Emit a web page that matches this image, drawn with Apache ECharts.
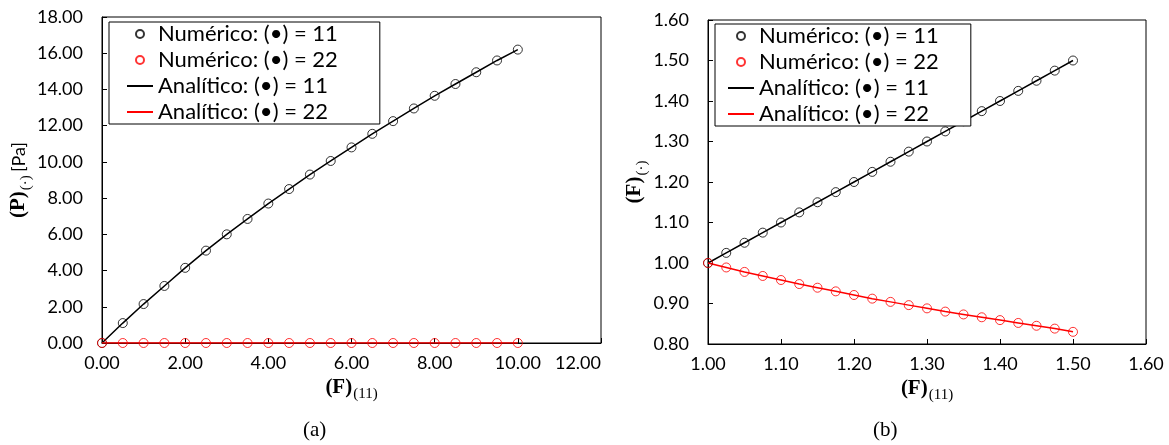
<!DOCTYPE html>
<html>
<head>
<meta charset="utf-8">
<script src="https://cdn.jsdelivr.net/npm/echarts@6/dist/echarts.min.js"></script>
<style>
html,body{margin:0;padding:0;background:#fff;}
#c{width:1169px;height:445px;}
</style>
</head>
<body>
<div id="c"></div>
<script>
// ---- Data ----
// Chart (a): first Piola stress components vs F11
const xA = [0, 0.5, 1, 1.5, 2, 2.5, 3, 3.5, 4, 4.5, 5, 5.5, 6, 6.5, 7, 7.5, 8, 8.5, 9, 9.5, 10];
const p11 = [0, 1.10, 2.15, 3.15, 4.15, 5.10, 6.00, 6.85, 7.70, 8.50, 9.30, 10.05, 10.80, 11.55, 12.25, 12.95, 13.65, 14.30, 14.95, 15.60, 16.20];
const p22 = [0, 0, 0, 0, 0, 0, 0, 0, 0, 0, 0, 0, 0, 0, 0, 0, 0, 0, 0, 0, 0];
// Chart (b): deformation gradient components vs F11
const xB = [1.000, 1.025, 1.050, 1.075, 1.100, 1.125, 1.150, 1.175, 1.200, 1.225, 1.250, 1.275, 1.300, 1.325, 1.350, 1.375, 1.400, 1.425, 1.450, 1.475, 1.500];
const f11 = [1.000, 1.025, 1.050, 1.075, 1.100, 1.125, 1.150, 1.175, 1.200, 1.225, 1.250, 1.275, 1.300, 1.325, 1.350, 1.375, 1.400, 1.425, 1.450, 1.475, 1.500];
const f22 = [1.000, 0.989, 0.978, 0.968, 0.958, 0.948, 0.939, 0.930, 0.921, 0.912, 0.904, 0.896, 0.888, 0.880, 0.873, 0.866, 0.859, 0.852, 0.845, 0.838, 0.830];

const seriesNames = ['Numérico: (•) = 11', 'Numérico: (•) = 22', 'Analítico: (•) = 11', 'Analítico: (•) = 22'];
const captions = ['(a)', '(b)'];

const pair = (xs, ys) => xs.map((x, i) => [x, ys[i]]);

const LBL = 'Lato';
const SERIF = 'Liberation Serif';
const fmt = v => v.toFixed(2);

const nameRich = {
  b: {fontFamily: SERIF, fontWeight: 'bold', fontSize: 21, color: '#000', lineHeight: 25, verticalAlign: 'top'},
  s: {fontFamily: SERIF, fontSize: 15, color: '#000', lineHeight: 16, verticalAlign: 'bottom', padding: [0, 0, 0, 1]},
  t: {fontFamily: LBL, fontSize: 18, color: '#000', lineHeight: 25, verticalAlign: 'top', padding: [2, 0, 0, 0]}
};

function xAxisCfg(grid, min, max, interval, alignMax) {
  return {
    type: 'value', gridIndex: grid, min: min, max: max, interval: interval,
    name: '{b|(F)}{s|(11)}', nameLocation: 'middle', nameGap: 28,
    nameTextStyle: {rich: nameRich},
    axisLine: {show: true, onZero: false, lineStyle: {color: '#000', width: 1}},
    axisTick: {show: true, inside: true, length: 5, lineStyle: {color: '#000'}},
    axisLabel: {formatter: fmt, fontFamily: LBL, fontSize: 18, color: '#000', margin: 11, alignMaxLabel: alignMax},
    splitLine: {show: false}
  };
}
function yAxisCfg(grid, min, max, interval, name, gap) {
  return {
    type: 'value', gridIndex: grid, min: min, max: max, interval: interval,
    name: name, nameLocation: 'middle', nameGap: gap, nameRotate: 90,
    nameTextStyle: {rich: nameRich},
    axisLine: {show: true, onZero: false, lineStyle: {color: '#000', width: 1}},
    axisTick: {show: true, inside: true, length: 5, lineStyle: {color: '#000'}},
    axisLabel: {formatter: fmt, fontFamily: LBL, fontSize: 18, color: '#000', margin: 19},
    splitLine: {show: false}
  };
}

function numSeries(name, xi, yi, data, color) {
  return {
    name: name, type: 'scatter', xAxisIndex: xi, yAxisIndex: yi, data: data,
    symbol: 'circle', symbolSize: 9, z: 3,
    itemStyle: {color: 'rgba(255,255,255,0)', borderColor: color, borderWidth: 1},
    emphasis: {disabled: true}
  };
}
function anaSeries(name, xi, yi, data, color) {
  return {
    name: name, type: 'line', xAxisIndex: xi, yAxisIndex: yi, data: data,
    symbol: 'none', showSymbol: false, z: 2,
    lineStyle: {color: color, width: 1.5},
    itemStyle: {color: 'rgba(0,0,0,0)', borderWidth: 0},
    emphasis: {disabled: true}
  };
}

const legendCommon = {
  orient: 'vertical', data: seriesNames, selectedMode: false,
  itemWidth: 26, itemHeight: 8, itemGap: 4,
  backgroundColor: '#fff', borderColor: '#000', borderWidth: 1,
  textStyle: {fontFamily: LBL, fontSize: 22, color: '#000'}
};

const option = {
  animation: false,
  backgroundColor: '#fff',
  title: [
    {text: captions[0], left: 298, top: 415, textStyle: {fontFamily: SERIF, fontSize: 21, fontWeight: 'normal', color: '#000'}},
    {text: captions[1], left: 868, top: 415, textStyle: {fontFamily: SERIF, fontSize: 21, fontWeight: 'normal', color: '#000'}}
  ],
  legend: [
    Object.assign({}, legendCommon, {left: 109, top: 22, padding: [1, 42, 1, 17]}),
    Object.assign({}, legendCommon, {left: 715, top: 24, padding: [1, 32, 1, 12]})
  ],
  grid: [
    {left: 102, top: 17, width: 499, height: 326, show: true, borderColor: '#000', borderWidth: 1, backgroundColor: 'transparent'},
    {left: 708, top: 20, width: 438, height: 324, show: true, borderColor: '#000', borderWidth: 1, backgroundColor: 'transparent'}
  ],
  xAxis: [
    xAxisCfg(0, 0, 12, 2, 'right'),
    xAxisCfg(1, 1.0, 1.6, 0.1, 'center')
  ],
  yAxis: [
    yAxisCfg(0, 0, 18, 2, '{b|(P)}{s|(·)} {t|[Pa]}', 64),
    yAxisCfg(1, 0.8, 1.6, 0.1, '{b|(F)}{s|(·)}', 50)
  ],
  series: [
    numSeries(seriesNames[0], 0, 0, pair(xA, p11), '#000'),
    numSeries(seriesNames[1], 0, 0, pair(xA, p22), '#ff0000'),
    anaSeries(seriesNames[2], 0, 0, pair(xA, p11), '#000'),
    anaSeries(seriesNames[3], 0, 0, pair(xA, p22), '#ff0000'),
    numSeries(seriesNames[0], 1, 1, pair(xB, f11), '#000'),
    numSeries(seriesNames[1], 1, 1, pair(xB, f22), '#ff0000'),
    anaSeries(seriesNames[2], 1, 1, pair(xB, f11), '#000'),
    anaSeries(seriesNames[3], 1, 1, pair(xB, f22), '#ff0000')
  ]
};

const chart = echarts.init(document.getElementById('c'), null, {renderer: 'canvas'});
chart.setOption(option);
</script>
</body>
</html>
